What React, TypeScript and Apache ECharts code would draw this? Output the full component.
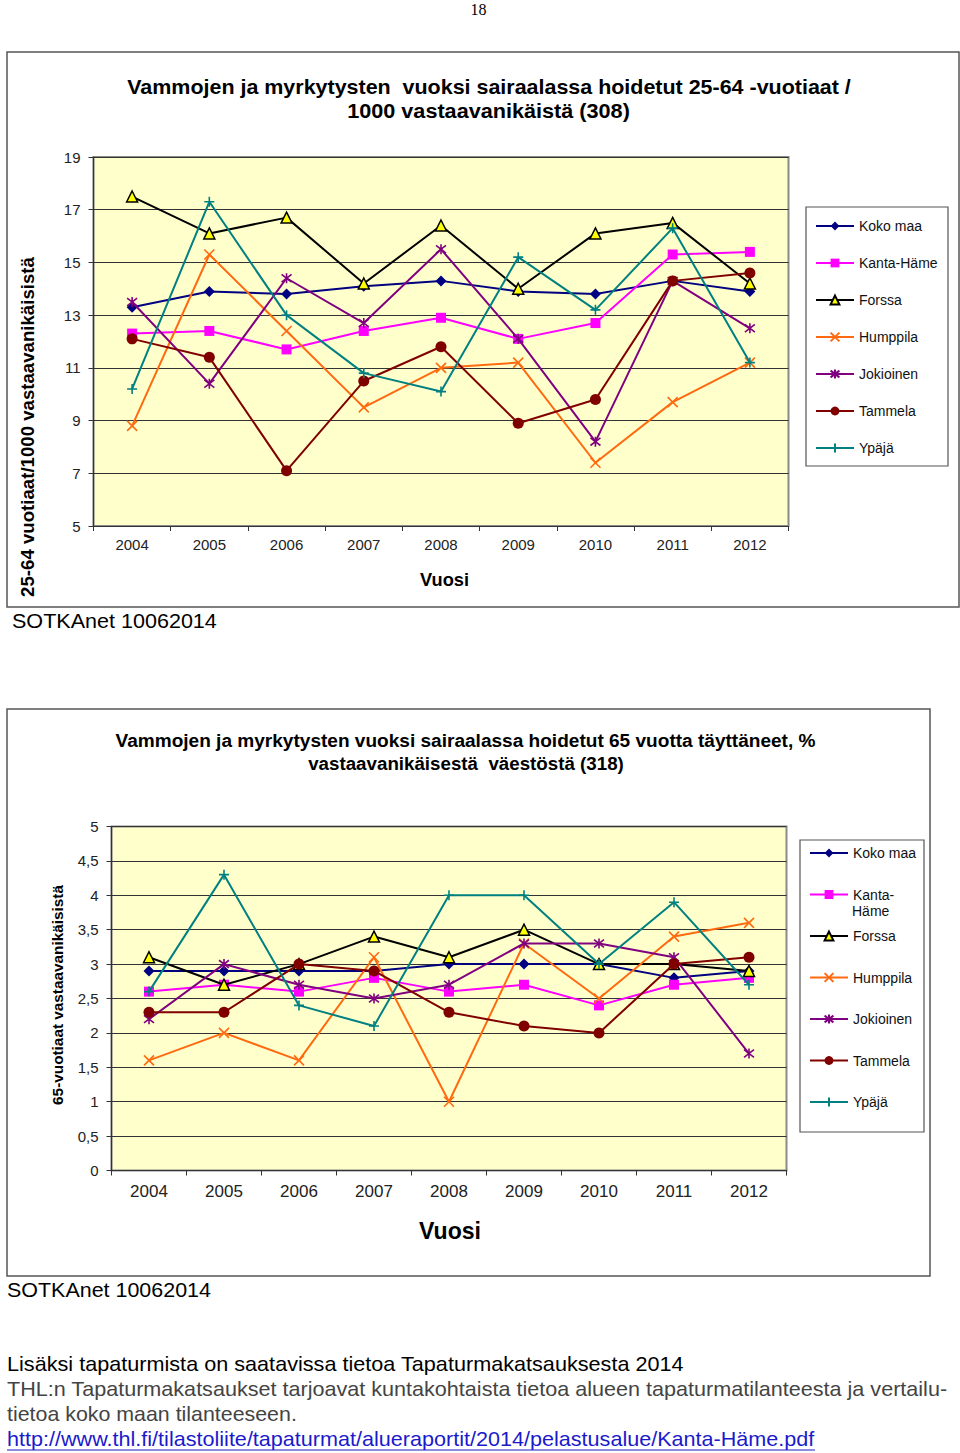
import React, { useEffect, useRef } from 'react';
import * as echarts from 'echarts';

// ---------- data ----------
const years = ['2004', '2005', '2006', '2007', '2008', '2009', '2010', '2011', '2012'];
const regionNames = ['Koko maa', 'Kanta-Häme', 'Forssa', 'Humppila', 'Jokioinen', 'Tammela', 'Ypäjä'];

// chart 1: 25-64 -vuotiaat / 1000 vastaavanikäistä
const topKokoMaa = [13.3, 13.9, 13.8, 14.1, 14.3, 13.9, 13.8, 14.3, 13.9];
const topKantaHame = [12.3, 12.4, 11.7, 12.4, 12.9, 12.1, 12.7, 15.3, 15.4];
const topForssa = [17.5, 16.1, 16.7, 14.2, 16.4, 14.0, 16.1, 16.5, 14.2];
const topHumppila = [8.8, 15.3, 12.4, 9.5, 11.0, 11.2, 7.4, 9.7, 11.2];
const topJokioinen = [13.5, 10.4, 14.4, 12.7, 15.5, 12.1, 8.2, 14.3, 12.5];
const topTammela = [12.1, 11.4, 7.1, 10.5, 11.8, 8.9, 9.8, 14.3, 14.6];
const topYpaja = [10.2, 17.3, 13.0, 10.8, 10.1, 15.2, 13.2, 16.3, 11.2];

// chart 2: 65 vuotta täyttäneet, %
const botKokoMaa = [2.9, 2.9, 2.9, 2.9, 3.0, 3.0, 3.0, 2.8, 2.9];
const botKantaHame = [2.6, 2.7, 2.6, 2.8, 2.6, 2.7, 2.4, 2.7, 2.8];
const botForssa = [3.1, 2.7, 3.0, 3.4, 3.1, 3.5, 3.0, 3.0, 2.9];
const botHumppila = [1.6, 2.0, 1.6, 3.1, 1.0, 3.3, 2.5, 3.4, 3.6];
const botJokioinen = [2.2, 3.0, 2.7, 2.5, 2.7, 3.3, 3.3, 3.1, 1.7];
const botTammela = [2.3, 2.3, 3.0, 2.9, 2.3, 2.1, 2.0, 3.0, 3.1];
const botYpaja = [2.6, 4.3, 2.4, 2.1, 4.0, 4.0, 3.0, 3.9, 2.7];

const topValues = [topKokoMaa, topKantaHame, topForssa, topHumppila, topJokioinen, topTammela, topYpaja];
const botValues = [botKokoMaa, botKantaHame, botForssa, botHumppila, botJokioinen, botTammela, botYpaja];

// ---------- styles ----------
const X_PATH = 'path://M0,0L10,10M10,0L0,10';
const STAR_PATH = 'path://M0,0L10,10M10,0L0,10M5,-1.5L5,11.5';
const PLUS_PATH = 'path://M5,0L5,10M0,5L10,5';

const seriesStyles = [
  { line: '#000080', fill: '#000080', symbol: 'diamond', size: 11, bw: 0 },
  { line: '#FF00FF', fill: '#FF00FF', symbol: 'rect', size: 10, bw: 0 },
  { line: '#000000', fill: '#FFFF00', symbol: 'triangle', size: 11, bw: 1.5 },
  { line: '#FF6A10', fill: '#FF6A10', symbol: X_PATH, size: 10, bw: 1.6 },
  { line: '#800080', fill: '#800080', symbol: STAR_PATH, size: 10, bw: 1.6 },
  { line: '#800000', fill: '#800000', symbol: 'circle', size: 11, bw: 0 },
  { line: '#008080', fill: '#008080', symbol: PLUS_PATH, size: 10, bw: 1.6 },
];

const FONT = '"Liberation Sans", Arial, sans-serif';

let measureCtx: CanvasRenderingContext2D | null = null;
function fitScale(text: string, font: string, width: number) {
  if (!measureCtx) measureCtx = document.createElement('canvas').getContext('2d');
  if (!measureCtx) return 1;
  measureCtx.font = font;
  const w = measureCtx.measureText(text).width;
  if (!w) return 1;
  return Math.max(0.6, Math.min(1.3, width / w));
}

function txt(
  text: string, x: number, y: number, size: number, weight: string, width: number,
  align: 'left' | 'center', color = '#000', rotate = 0, family = FONT,
) {
  const font = `${weight} ${size}px ${family}`;
  return {
    type: 'text',
    x, y,
    rotation: rotate,
    scaleX: fitScale(text, font, width),
    silent: true,
    style: { text, x: 0, y: 0, font, fill: color, align, verticalAlign: 'middle' },
    z: 10,
  };
}

function buildSeries(values: number[][], gridIdx: number) {
  return regionNames.map((name, i) => {
    const s = seriesStyles[i];
    return {
      type: 'line',
      name,
      xAxisIndex: gridIdx,
      yAxisIndex: gridIdx,
      data: values[i],
      symbol: s.symbol,
      symbolSize: s.size,
      showAllSymbol: true,
      lineStyle: { color: s.line, width: 2 },
      itemStyle: { color: s.fill, borderColor: s.line, borderWidth: s.bw },
      emphasis: { disabled: true },
      z: 3 + i * 0.01,
    };
  });
}

export default function App() {
  const ref = useRef<HTMLDivElement>(null);
  useEffect(() => {
    document.body.style.margin = '0';
    if (!ref.current) return;
    const chart = echarts.init(ref.current, undefined, { renderer: 'svg' });

    const axisCommon = {
      axisLine: { show: true, lineStyle: { color: '#333', width: 1.2 } },
      axisTick: { show: true, length: 5, lineStyle: { color: '#333' } },
    };

    const option: any = {
      animation: false,
      backgroundColor: '#fff',
      grid: [
        { left: 93.5, right: 171.5, top: 157, bottom: 927, show: true, backgroundColor: '#FFFFCC', borderColor: '#8a8a8a', borderWidth: 2, containLabel: false },
        { left: 111.5, right: 173.5, top: 826.5, bottom: 282.5, show: true, backgroundColor: '#FFFFCC', borderColor: '#8a8a8a', borderWidth: 2, containLabel: false },
      ],
      xAxis: [
        { type: 'category', gridIndex: 0, data: years, ...axisCommon, axisLabel: { fontSize: 15, color: '#222', margin: 11, fontFamily: FONT } },
        { type: 'category', gridIndex: 1, data: years, ...axisCommon, axisLabel: { fontSize: 17, color: '#222', margin: 12, fontFamily: FONT } },
      ],
      yAxis: [
        {
          type: 'value', gridIndex: 0, min: 5, max: 19, interval: 2, ...axisCommon,
          splitLine: { show: true, lineStyle: { color: '#333', width: 1 } },
          axisLabel: { fontSize: 15, color: '#222', margin: 13, fontFamily: FONT },
        },
        {
          type: 'value', gridIndex: 1, min: 0, max: 5, interval: 0.5, ...axisCommon,
          splitLine: { show: true, lineStyle: { color: '#333', width: 1 } },
          axisLabel: {
            fontSize: 15, color: '#222', margin: 13, fontFamily: FONT,
            formatter: (v: number) => String(v).replace('.', ','),
          },
        },
      ],
      legend: [
        {
          data: regionNames,
          orient: 'vertical',
          left: 815,
          top: 218,
          itemWidth: 38,
          itemHeight: 11,
          itemGap: 21,
          padding: 0,
          selectedMode: false,
          textStyle: { fontSize: 14, color: '#111', fontFamily: FONT, lineHeight: 16 },
        },
        {
          data: regionNames,
          // the long name wraps in the reference: first line here, second line drawn below it
          formatter: (n: string) => (n === 'Kanta-Häme' ? 'Kanta-' : n),
          orient: 'vertical',
          left: 809,
          top: 845,
          itemWidth: 38,
          itemHeight: 11,
          itemGap: 25.5,
          padding: 0,
          selectedMode: false,
          textStyle: { fontSize: 14, color: '#111', fontFamily: FONT, lineHeight: 16 },
        },
      ],
      series: [...buildSeries(topValues, 0), ...buildSeries(botValues, 1)],
      graphic: {
        elements: [
          // page frames
          { type: 'rect', shape: { x: 7, y: 52, width: 952, height: 555 }, style: { fill: 'none', stroke: '#555', lineWidth: 1.5 }, silent: true },
          { type: 'rect', shape: { x: 7, y: 709, width: 923, height: 567 }, style: { fill: 'none', stroke: '#555', lineWidth: 1.5 }, silent: true },
          // legend boxes
          { type: 'rect', shape: { x: 806, y: 207, width: 142, height: 259 }, style: { fill: '#fff', stroke: '#555', lineWidth: 1.2 }, silent: true },
          { type: 'rect', shape: { x: 800, y: 840, width: 124, height: 292 }, style: { fill: '#fff', stroke: '#555', lineWidth: 1.2 }, silent: true },
          // wrapped second line of the legend entry "Kanta-Häme"
          {
            type: 'text', x: 852, y: 911, silent: true, z: 10,
            style: { text: 'Häme', x: 0, y: 0, font: `normal 14px ${FONT}`, fill: '#111', align: 'left', verticalAlign: 'middle' },
          },
          // page number
          txt('18', 478.5, 9, 16, 'normal', 16, 'center', '#000', 0, '"Liberation Serif", "Times New Roman", serif'),
          // chart 1 texts
          txt('Vammojen ja myrkytysten  vuoksi sairaalassa hoidetut 25-64 -vuotiaat /', 489, 87, 21, 'bold', 724, 'center'),
          txt('1000 vastaavanikäistä (308)', 488.5, 111, 21, 'bold', 283, 'center'),
          txt('25-64 vuotiaat/1000 vastaavanikäisistä', 28, 427, 18, 'bold', 340, 'center', '#000', Math.PI / 2),
          txt('Vuosi', 444.5, 579, 19, 'bold', 49, 'center'),
          txt('SOTKAnet 10062014', 12, 621, 20, 'normal', 205, 'left'),
          // chart 2 texts
          txt('Vammojen ja myrkytysten vuoksi sairaalassa hoidetut 65 vuotta täyttäneet, %', 465.5, 741, 19, 'bold', 701, 'center'),
          txt('vastaavanikäisestä  väestöstä (318)', 466, 763, 19, 'bold', 316, 'center'),
          txt('65-vuotiaat vastaavanikäisistä', 58, 995, 14, 'bold', 220, 'center', '#000', Math.PI / 2),
          txt('Vuosi', 450, 1231, 23, 'bold', 62, 'center'),
          txt('SOTKAnet 10062014', 7, 1290, 20, 'normal', 204, 'left'),
          // bottom text
          txt('Lisäksi tapaturmista on saatavissa tietoa Tapaturmakatsauksesta 2014', 7, 1364, 20, 'normal', 677, 'left'),
          txt('THL:n Tapaturmakatsaukset tarjoavat kuntakohtaista tietoa alueen tapaturmatilanteesta ja vertailu-', 7, 1389, 20, 'normal', 941, 'left', '#444'),
          txt('tietoa koko maan tilanteeseen.', 7, 1414, 20, 'normal', 290, 'left', '#444'),
          txt('http://www.thl.fi/tilastoliite/tapaturmat/alueraportit/2014/pelastusalue/Kanta-Häme.pdf', 7, 1439, 20, 'normal', 808, 'left', '#1a1acc'),
          { type: 'line', shape: { x1: 7, y1: 1450, x2: 815, y2: 1450 }, style: { stroke: '#1a1acc', lineWidth: 1.2 }, silent: true, z: 10 },
        ],
      },
    };

    chart.setOption(option);
    return () => chart.dispose();
  }, []);

  return <div ref={ref} style={{ width: 960, height: 1453 }} />;
}
